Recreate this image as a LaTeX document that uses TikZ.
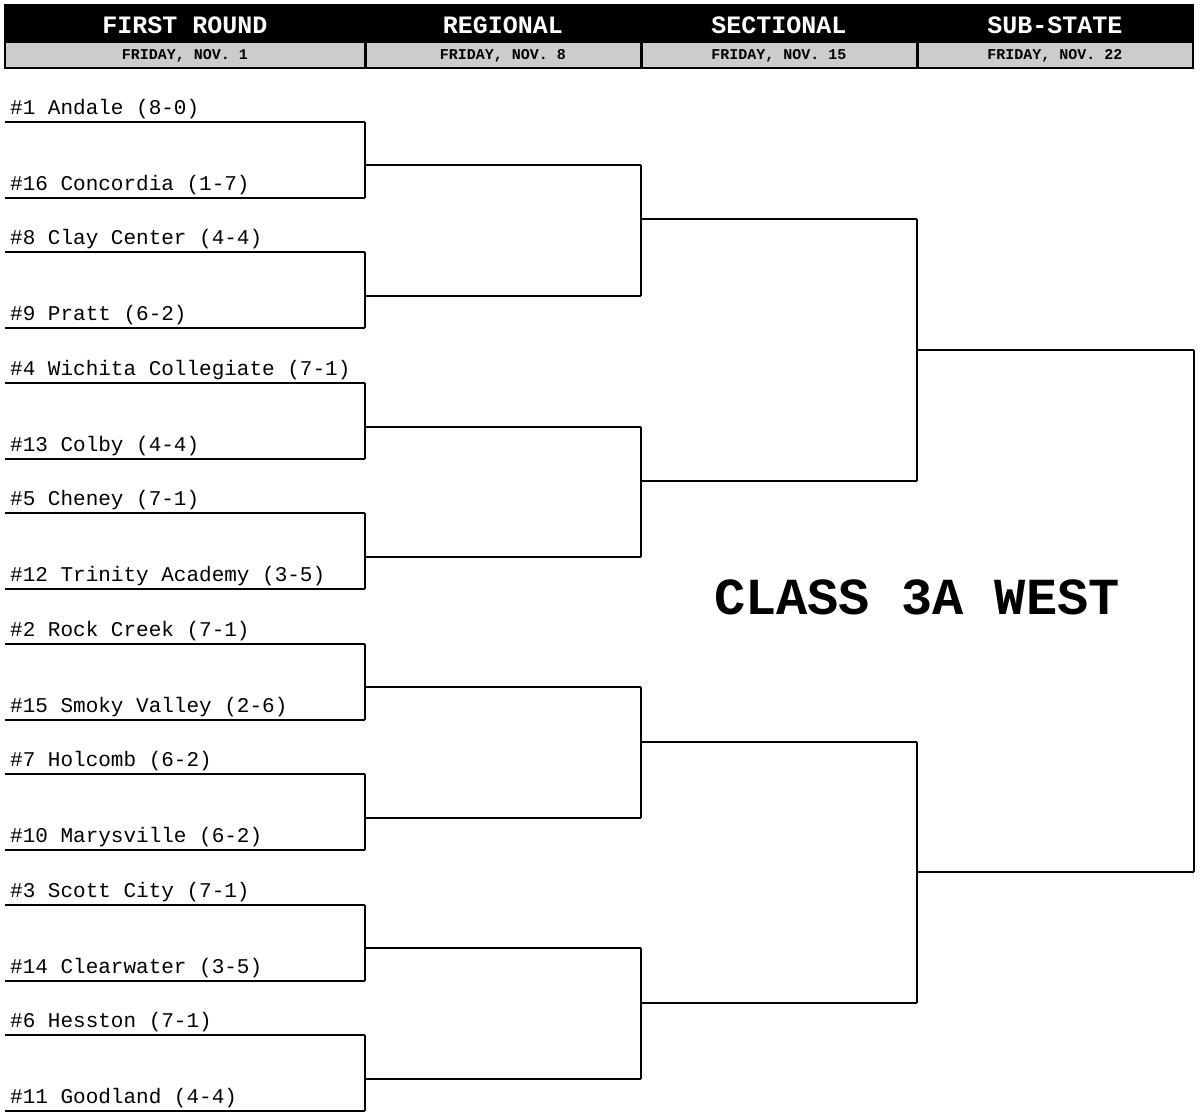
\documentclass[tikz,border=0pt]{standalone}
\usepackage{fontspec}
\setmainfont{Liberation Mono}
\begin{document}
\begin{tikzpicture}[x=1pt,y=-1pt,
  br/.style={line width=2pt},
  team/.style={anchor=base west,inner sep=0pt,font=\fontsize{21}{24}\selectfont},
  hd/.style={text=white,font=\bfseries\fontsize{25}{28}\selectfont},
  dt/.style={font=\bfseries\fontsize{15}{18}\selectfont}]
\useasboundingbox (0,0) rectangle (1200,1116);
\fill[white] (0,0) rectangle (1200,1116);
\fill[black] (4,4) rectangle (1194,69);
\foreach \a/\b in {6/364,367/640,643/916,919/1192}
  \fill[gray!40] (\a,43) rectangle (\b,67);
\node[hd] (h1) at (185,25) {FIRST ROUND};
\node[hd] (h2) at (503,25) {REGIONAL};
\node[hd] (h3) at (779,25) {SECTIONAL};
\node[hd] (h4) at (1055,25) {SUB-STATE};
\node[dt] (d1) at (185,56) {FRIDAY, NOV. 1};
\node[dt] (d2) at (503,56) {FRIDAY, NOV. 8};
\node[dt] (d3) at (779,56) {FRIDAY, NOV. 15};
\node[dt] (d4) at (1055,56) {FRIDAY, NOV. 22};
% first round
\foreach \y/\t [count=\i] in {
 122/{\#1 Andale (8-0)},198/{\#16 Concordia (1-7)},
 252/{\#8 Clay Center (4-4)},328/{\#9 Pratt (6-2)},
 383/{\#4 Wichita Collegiate (7-1)},459/{\#13 Colby (4-4)},
 513/{\#5 Cheney (7-1)},589/{\#12 Trinity Academy (3-5)},
 644/{\#2 Rock Creek (7-1)},720/{\#15 Smoky Valley (2-6)},
 774/{\#7 Holcomb (6-2)},850/{\#10 Marysville (6-2)},
 905/{\#3 Scott City (7-1)},981/{\#14 Clearwater (3-5)},
 1035/{\#6 Hesston (7-1)},1111/{\#11 Goodland (4-4)}}{
  \coordinate (a\i) at (5,\y);
  \coordinate (b\i) at (365,\y);
  \draw[br] (a\i) -- (b\i);
  \node[team] (t\i) at (10,\y-8) {\t};
}
\foreach \i/\j/\y [count=\k] in {1/2/165,3/4/296,5/6/427,7/8/557,9/10/687,11/12/818,13/14/948,15/16/1079}{
  \coordinate (r\k) at (641,\y);
  \draw[br] (b\i) -- (b\j);
  \draw[br] (365,\y) -- (r\k);
}
\foreach \i/\j/\y [count=\k] in {1/2/219,3/4/481,5/6/742,7/8/1003}{
  \coordinate (s\k) at (917,\y);
  \draw[br] (r\i) -- (r\j);
  \draw[br] (641,\y) -- (s\k);
}
\foreach \i/\j/\y [count=\k] in {1/2/350,3/4/872}{
  \coordinate (u\k) at (1194,\y);
  \draw[br] (s\i) -- (s\j);
  \draw[br] (917,\y) -- (u\k);
}
\draw[br] (u1) -- (u2);
\node[font=\bfseries\fontsize{52}{56}\selectfont] (title) at (917,597) {CLASS 3A WEST};
\end{tikzpicture}
\end{document}
